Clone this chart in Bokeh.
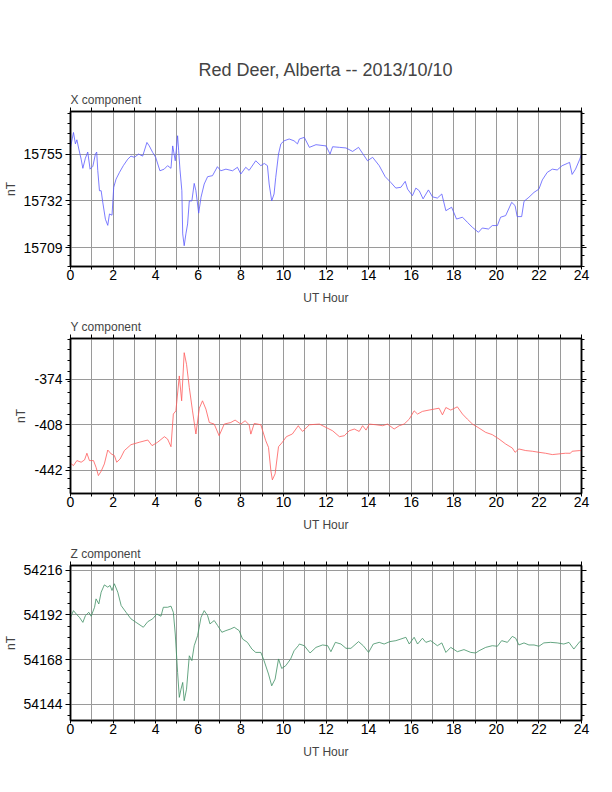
from bokeh.plotting import figure
from bokeh.models import Range1d, LinearAxis, FixedTicker, Title
from bokeh.layouts import column
from bokeh.embed import file_html
from bokeh.resources import INLINE

FONT = "Liberation Sans"
MAIN_TITLE = "Red Deer, Alberta -- 2013/10/10"
X_LABEL = "UT Hour"
Y_LABEL = "nT"

# ---------------- X component (blue) ----------------
x_hours = [
    0.0, 0.14, 0.23, 0.3, 0.39, 0.5, 0.58, 0.7, 0.81, 0.92,
    1.05, 1.17, 1.23, 1.28, 1.36, 1.44, 1.52, 1.64, 1.75, 1.83,
    1.95, 2.03, 2.14, 2.3, 2.48, 2.69, 2.84, 3.0, 3.2, 3.39,
    3.59, 3.7, 3.86, 4.0, 4.2, 4.4, 4.56, 4.72, 4.8, 4.92,
    5.03, 5.08, 5.14, 5.23, 5.27, 5.34, 5.42, 5.5, 5.58, 5.7,
    5.81, 5.89, 6.02, 6.13, 6.28, 6.44, 6.67, 6.9, 7.06, 7.3,
    7.61, 7.84, 8.0, 8.23, 8.39, 8.7, 8.94, 9.1, 9.25, 9.33,
    9.45, 9.56, 9.64, 9.77, 9.88, 10.03, 10.27, 10.5, 10.66, 10.75,
    10.98, 11.22, 11.53, 12.0, 12.19, 12.31, 12.63, 12.94, 13.25, 13.53,
    13.72, 13.95, 14.19, 14.5, 14.78, 15.05, 15.28, 15.52, 15.72, 15.83,
    16.06, 16.22, 16.38, 16.56, 16.81, 17.0, 17.23, 17.44, 17.63, 17.9,
    18.13, 18.41, 18.64, 18.88, 19.16, 19.34, 19.63, 19.81, 20.05, 20.2,
    20.44, 20.72, 20.88, 20.98, 21.19, 21.3, 21.53, 21.77, 22.0, 22.16,
    22.39, 22.63, 22.86, 23.09, 23.33, 23.44, 23.56, 23.72, 23.92, 24.0,
]
x_nt = [
    15758.3, 15765.6, 15760, 15762, 15757.5, 15752.5, 15748, 15753, 15756, 15747.6,
    15749, 15755, 15756, 15747, 15737, 15737, 15731, 15723, 15720, 15725.6,
    15725, 15738.7, 15742.7, 15746, 15749.3, 15752.5, 15754, 15753.4, 15755, 15754,
    15760.7, 15759, 15755.8, 15753.4, 15746.8, 15747.6, 15749.3, 15748, 15759, 15751.7,
    15764, 15756.6, 15747.6, 15737, 15715.8, 15710, 15715.8, 15720.7, 15732, 15732,
    15740.6, 15737, 15726, 15733.8, 15740.3, 15743.9, 15744.4, 15748.8, 15746.8, 15747.6,
    15746.8, 15748.5, 15745.2, 15748.5, 15747, 15751.7, 15749.3, 15750.4, 15749.3, 15740.3,
    15732, 15735.4, 15743.6, 15755, 15760, 15761.5, 15762.4, 15761.5, 15760, 15762.4,
    15763.2, 15758.3, 15759.6, 15759, 15755, 15758.6, 15758.3, 15758, 15756.3, 15758.3,
    15755.3, 15751.7, 15753.4, 15749.3, 15743.9, 15741, 15738.3, 15738.7, 15741.6, 15737.8,
    15734.6, 15738.3, 15737, 15733, 15737.4, 15734, 15733.4, 15735.4, 15727.2, 15728.9,
    15723.1, 15724, 15721.5, 15719, 15716.6, 15718.7, 15718.2, 15719.9, 15719.9, 15724,
    15724.8, 15731.3, 15729.7, 15724.3, 15724.3, 15731.8, 15733.8, 15736.2, 15737.8, 15742.3,
    15746, 15747.6, 15747.2, 15749.3, 15750.4, 15750.9, 15745, 15747.6, 15752.5, 15755,
]
x_range_nt = (15699.8, 15775.9)
x_major = [15709, 15732, 15755]
x_minor = list(range(15700, 15780, 5))

# ---------------- Y component (red) ----------------
y_hours = [
    0.0, 0.14, 0.3, 0.5, 0.66, 0.77, 0.89, 1.08, 1.2, 1.31,
    1.44, 1.59, 1.75, 1.91, 2.06, 2.17, 2.33, 2.53, 2.84, 3.23,
    3.63, 3.83, 4.09, 4.41, 4.56, 4.72, 4.83, 4.95, 5.11, 5.22,
    5.34, 5.45, 5.58, 5.73, 5.89, 6.05, 6.2, 6.36, 6.52, 6.75,
    6.98, 7.22, 7.53, 7.73, 8.0, 8.2, 8.39, 8.47, 8.63, 8.94,
    9.17, 9.3, 9.41, 9.48, 9.61, 9.77, 9.95, 10.14, 10.42, 10.7,
    10.75, 10.9, 11.22, 11.69, 12.0, 12.31, 12.63, 12.86, 13.09, 13.33,
    13.56, 13.72, 13.88, 14.03, 14.34, 14.66, 14.89, 15.2, 15.44, 15.67,
    15.91, 16.14, 16.3, 16.53, 16.84, 17.08, 17.31, 17.47, 17.63, 17.86,
    18.17, 18.41, 18.64, 18.88, 19.19, 19.5, 19.81, 20.13, 20.44, 20.75,
    20.88, 21.06, 21.38, 21.69, 22.0, 22.31, 22.63, 22.94, 23.25, 23.48,
    23.56, 23.92, 24.0,
]
y_nt = [
    -436.8, -438.5, -434.8, -436, -434.3, -429.3, -434.8, -434.8, -439.8, -446,
    -442.7, -437.3, -426.9, -429.8, -431, -436, -433.6, -427.3, -422.9, -421.1,
    -419.4, -423.6, -421.1, -416.9, -418.7, -424.4, -400, -397.6, -371.5, -390.1,
    -354.1, -362.8, -380.2, -397.6, -414.9, -395.6, -390.1, -396.3, -406.3, -407.5,
    -416.2, -407.5, -406.3, -404.5, -407.5, -405, -408, -415, -407, -408,
    -419.9, -424.9, -442.2, -449.2, -444.7, -424.4, -421.1, -416.9, -414.9, -408.7,
    -410, -413, -408, -407.5, -410, -412.5, -416.9, -416.2, -412.5, -411.2,
    -413, -408.7, -412, -407.5, -408, -408.7, -407.5, -411.2, -408.7, -407.5,
    -403.8, -397.6, -400, -398, -397, -396.3, -395.6, -400.6, -395.1, -397,
    -394.6, -400, -403.8, -407.5, -410.5, -413.7, -415.4, -418.7, -422.4, -425.4,
    -428.6, -426.1, -427.3, -427.8, -428.6, -429.3, -430.3, -429.8, -429.3, -429.3,
    -427.8, -427.3, -427.3,
]
y_range_nt = (-459.4, -343.5)
y_major = [-442, -408, -374]
y_minor = list(range(-456, -343, 8))

# ---------------- Z component (green) ----------------
z_hours = [
    0.0, 0.14, 0.27, 0.42, 0.58, 0.7, 0.86, 0.97, 1.13, 1.2,
    1.33, 1.44, 1.59, 1.75, 1.86, 1.95, 2.06, 2.22, 2.38, 2.61,
    2.84, 3.08, 3.42, 3.63, 3.86, 4.05, 4.25, 4.36, 4.56, 4.72,
    4.83, 4.92, 5.03, 5.11, 5.19, 5.27, 5.34, 5.45, 5.58, 5.7,
    5.81, 5.97, 6.13, 6.28, 6.44, 6.55, 6.75, 6.91, 7.11, 7.3,
    7.53, 7.69, 7.92, 8.08, 8.31, 8.52, 8.7, 8.94, 9.09, 9.3,
    9.45, 9.61, 9.77, 9.92, 10.11, 10.34, 10.5, 10.7, 10.75, 10.98,
    11.25, 11.53, 11.84, 12.08, 12.23, 12.44, 12.7, 12.94, 13.17, 13.53,
    13.75, 14.0, 14.22, 14.5, 14.73, 15.0, 15.28, 15.52, 15.75, 15.91,
    16.14, 16.3, 16.53, 16.69, 16.92, 17.23, 17.44, 17.63, 17.86, 18.17,
    18.48, 18.8, 19.03, 19.19, 19.5, 19.81, 20.05, 20.25, 20.52, 20.75,
    20.91, 21.06, 21.3, 21.53, 21.77, 22.0, 22.23, 22.55, 22.86, 23.17,
    23.41, 23.64, 23.92, 24.0,
]
z_nt = [
    54190.7, 54194.3, 54192.5, 54190.7, 54188, 54191.6, 54193.4, 54191.3, 54196.1, 54200.6,
    54197.9, 54204.2, 54208.1, 54206.9, 54207.8, 54205.1, 54208.7, 54204.2, 54197, 54193.4,
    54189.9, 54188, 54185.4, 54188.4, 54189.9, 54192.5, 54191.3, 54196.1, 54196.1, 54196.7,
    54193.4, 54181.8, 54161.2, 54147.8, 54152.2, 54155.8, 54146, 54152.2, 54170.1, 54167.5,
    54175.5, 54180.9, 54190.7, 54194.3, 54191.6, 54187.2, 54189, 54186.3, 54182.7, 54183.6,
    54184.5, 54185.4, 54183.6, 54179.1, 54177.3, 54173.7, 54171.9, 54171.9, 54167.5, 54160.3,
    54154, 54157.6, 54168.4, 54163.3, 54164.8, 54168.4, 54172.8, 54175.5, 54176.4, 54175.5,
    54171.6, 54174.6, 54175.9, 54175.5, 54172.3, 54177.3, 54176.4, 54174.1, 54174.1, 54177.7,
    54175.5, 54171.9, 54176.4, 54177.3, 54176.4, 54177.7, 54178.2, 54179.1, 54180, 54176.4,
    54180, 54176.4, 54179.5, 54177.3, 54178.2, 54175.5, 54177, 54171.9, 54174.6, 54172.3,
    54173.4, 54171.9, 54171.6, 54172.8, 54174.6, 54175.5, 54175.2, 54178.2, 54177.3, 54180.5,
    54179.5, 54175.9, 54177, 54175.9, 54175.9, 54175.2, 54177, 54177.3, 54177, 54176.4,
    54177.3, 54173.7, 54177.7, 54178,
]
z_range_nt = (54135.4, 54218.5)
z_major = [54144, 54168, 54192, 54216]
z_minor = list(range(54138, 54219, 6))

hour_major = list(range(0, 25, 2))
hour_minor = list(range(1, 24, 2))
hour_grid = list(range(0, 25))

assert len(x_hours) == len(x_nt)
assert len(y_hours) == len(y_nt)
assert len(z_hours) == len(z_nt)


def style_axis(ax, ticker, labels=True, tick_out=5, minor_out=3):
    ax.ticker = ticker
    ax.axis_line_color = "black"
    ax.axis_line_width = 1.5
    ax.major_tick_line_color = "black"
    ax.minor_tick_line_color = "black"
    ax.major_tick_out = tick_out
    ax.major_tick_in = 0
    ax.minor_tick_out = minor_out
    ax.minor_tick_in = 0
    ax.major_label_text_font = FONT
    if labels:
        ax.major_label_text_color = "black"
        ax.major_label_text_font_size = "14px"
        ax.major_label_standoff = 3
        # plain hyphen-minus as in the reference
        ax.major_label_overrides = {t: str(t) for t in ticker.ticks}
    else:
        ax.major_label_text_color = None
        ax.major_label_text_font_size = "1px"
        ax.major_label_standoff = 0
        ax.major_label_overrides = {t: "" for t in ticker.ticks}


def make_panel(name, hours, vals, color, yrange, majors, minors, top_border, main=None):
    p = figure(frame_width=511, frame_height=155,
               x_range=Range1d(0, 24), y_range=Range1d(*yrange),
               output_backend="svg", toolbar_location=None,
               min_border_left=63, min_border_right=24,
               min_border_top=top_border, min_border_bottom=43)
    p.background_fill_color = "white"
    p.border_fill_color = "white"
    p.outline_line_color = "black"
    p.outline_line_width = 1.5

    yt = FixedTicker(ticks=majors, minor_ticks=minors)
    xt = FixedTicker(ticks=hour_major, minor_ticks=hour_minor)

    xa = p.xaxis[0]
    style_axis(xa, xt, labels=True, tick_out=3, minor_out=3)
    xa.major_label_standoff = 0
    xa.axis_label = X_LABEL
    xa.axis_label_text_font = FONT
    xa.axis_label_text_font_size = "12px"
    xa.axis_label_text_font_style = "normal"
    xa.axis_label_standoff = 8

    ya = p.yaxis[0]
    style_axis(ya, yt, labels=True)
    ya.axis_label = Y_LABEL
    ya.axis_label_text_font = FONT
    ya.axis_label_text_font_size = "12px"
    ya.axis_label_text_font_style = "normal"
    ya.axis_label_standoff = 3

    ra = LinearAxis()
    style_axis(ra, FixedTicker(ticks=majors, minor_ticks=minors), labels=False)
    p.add_layout(ra, "right")

    ta = LinearAxis()
    style_axis(ta, FixedTicker(ticks=hour_major, minor_ticks=hour_minor),
               labels=False, tick_out=4, minor_out=4)
    p.add_layout(ta, "above")

    p.xgrid.ticker = FixedTicker(ticks=hour_grid)
    p.ygrid.ticker = FixedTicker(ticks=majors)
    for g in (p.xgrid[0], p.ygrid[0]):
        g.grid_line_color = "#9a9a9a"
        g.grid_line_width = 1

    p.add_layout(Title(text=name, align="left", text_font=FONT,
                       text_font_size="12px", text_font_style="normal",
                       standoff=2), "above")
    if main:
        p.add_layout(Title(text=main, align="center", offset=3, text_font=FONT,
                           text_font_size="18px", text_font_style="normal",
                           standoff=19), "above")

    p.line(hours, vals, line_color=color, line_width=0.8)
    return p


p1 = make_panel("X component", x_hours, x_nt, "#5a5aff", x_range_nt,
                x_major, x_minor, 111, main=MAIN_TITLE)
p2 = make_panel("Y component", y_hours, y_nt, "#ff5a5a", y_range_nt,
                y_major, y_minor, 29)
p3 = make_panel("Z component", z_hours, z_nt, "#3f8f63", z_range_nt,
                z_major, z_minor, 29)

layout = column(p1, p2, p3, spacing=0)

open("out.html", "w").write(file_html(layout, INLINE))
